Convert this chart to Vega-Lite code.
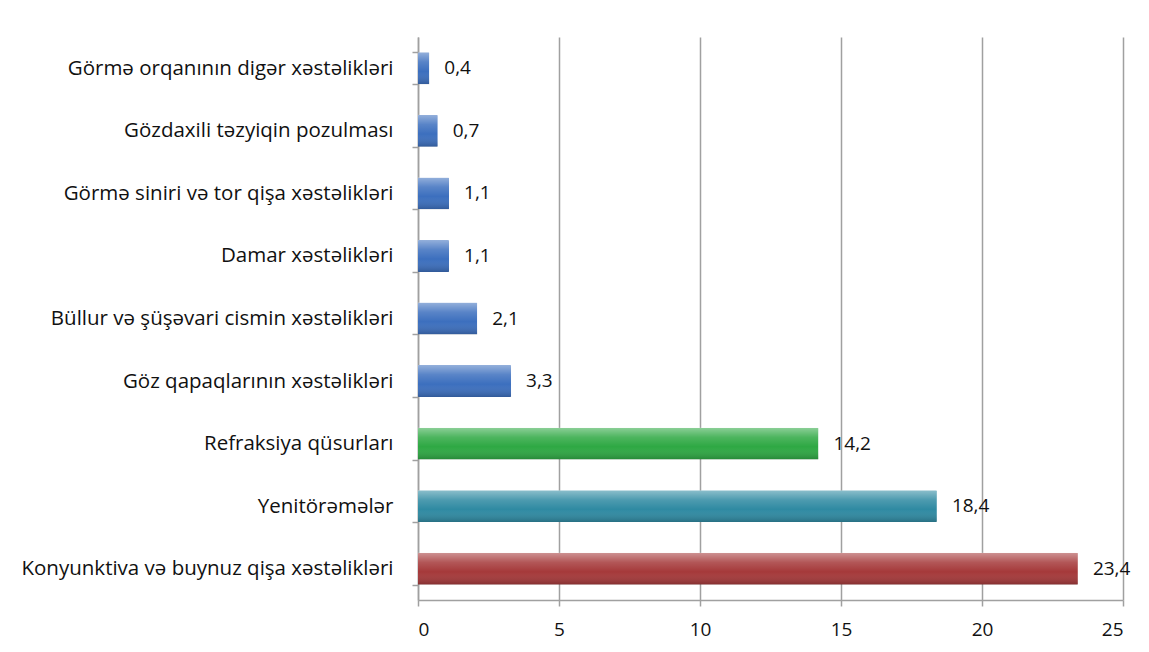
{
  "$schema": "https://vega.github.io/schema/vega-lite/v6.json",
  "width": 705,
  "height": 563,
  "autosize": {"type": "none"},
  "padding": {"left": 418, "top": 37, "right": 26, "bottom": 52},
  "background": "white",
  "config": {
    "view": {"stroke": null},
    "locale": {"number": {"decimal": ",", "thousands": " ", "grouping": [3], "currency": ["", ""]}},
    "font": "Open Sans"
  },
  "data": {
    "values": [
      {"cat": "Görmə orqanının digər xəstəlikləri", "value": 0.4, "grp": "b"},
      {"cat": "Gözdaxili təzyiqin pozulması", "value": 0.7, "grp": "b"},
      {"cat": "Görmə siniri və tor qişa xəstəlikləri", "value": 1.1, "grp": "b"},
      {"cat": "Damar xəstəlikləri", "value": 1.1, "grp": "b"},
      {"cat": "Büllur və şüşəvari cismin xəstəlikləri", "value": 2.1, "grp": "b"},
      {"cat": "Göz qapaqlarının xəstəlikləri", "value": 3.3, "grp": "b"},
      {"cat": "Refraksiya qüsurları", "value": 14.2, "grp": "g"},
      {"cat": "Yenitörəmələr", "value": 18.4, "grp": "t"},
      {"cat": "Konyunktiva və buynuz qişa xəstəlikləri", "value": 23.4, "grp": "r"}
    ]
  },
  "encoding": {
    "y": {
      "field": "cat", "type": "nominal", "sort": null, "title": null,
      "scale": {"paddingInner": 0.49, "paddingOuter": 0.245},
      "axis": {
        "tickBand": "extent", "domainColor": "#a0a0a0", "domainWidth": 1.5,
        "tickColor": "#a0a0a0", "tickWidth": 1.5, "tickSize": 6,
        "labelFontSize": 20.5, "labelColor": "#111", "labelPadding": 19,
        "labelLimit": 500, "grid": false
      }
    },
    "x": {
      "field": "value", "type": "quantitative", "title": null,
      "scale": {"domain": [0, 25], "nice": false},
      "axis": {
        "values": [0, 5, 10, 15, 20, 25], "grid": true, "gridColor": "#a0a0a0", "gridWidth": 1.5,
        "domainColor": "#a0a0a0", "domainWidth": 1.5, "tickColor": "#a0a0a0", "tickWidth": 1.5,
        "tickSize": 6, "labelFontSize": 19, "labelColor": "#111", "labelPadding": 14
      }
    }
  },
  "layer": [
    {
      "mark": {"type": "bar", "cornerRadius": 1},
      "encoding": {
        "color": {
          "field": "grp", "type": "nominal", "legend": null,
          "scale": {"domain": ["b", "g", "t", "r"], "range": ["#3c6fbe", "#2ea843", "#2f8aa2", "#a5393a"]}
        }
      }
    },
    {
      "mark": {
        "type": "bar",
        "fill": {
          "gradient": "linear", "x1": 0, "y1": 0, "x2": 0, "y2": 1,
          "stops": [
            {"offset": 0, "color": "rgba(255,255,255,0.45)"},
            {"offset": 0.3, "color": "rgba(255,255,255,0.15)"},
            {"offset": 0.6, "color": "rgba(255,255,255,0)"},
            {"offset": 1, "color": "rgba(0,0,0,0.2)"}
          ]
        }
      },
      "encoding": {}
    },
    {
      "mark": {"type": "text", "align": "left", "dx": 15, "fontSize": 19, "color": "#111"},
      "encoding": {"text": {"field": "value", "type": "quantitative", "format": ".1f"}}
    }
  ]
}
